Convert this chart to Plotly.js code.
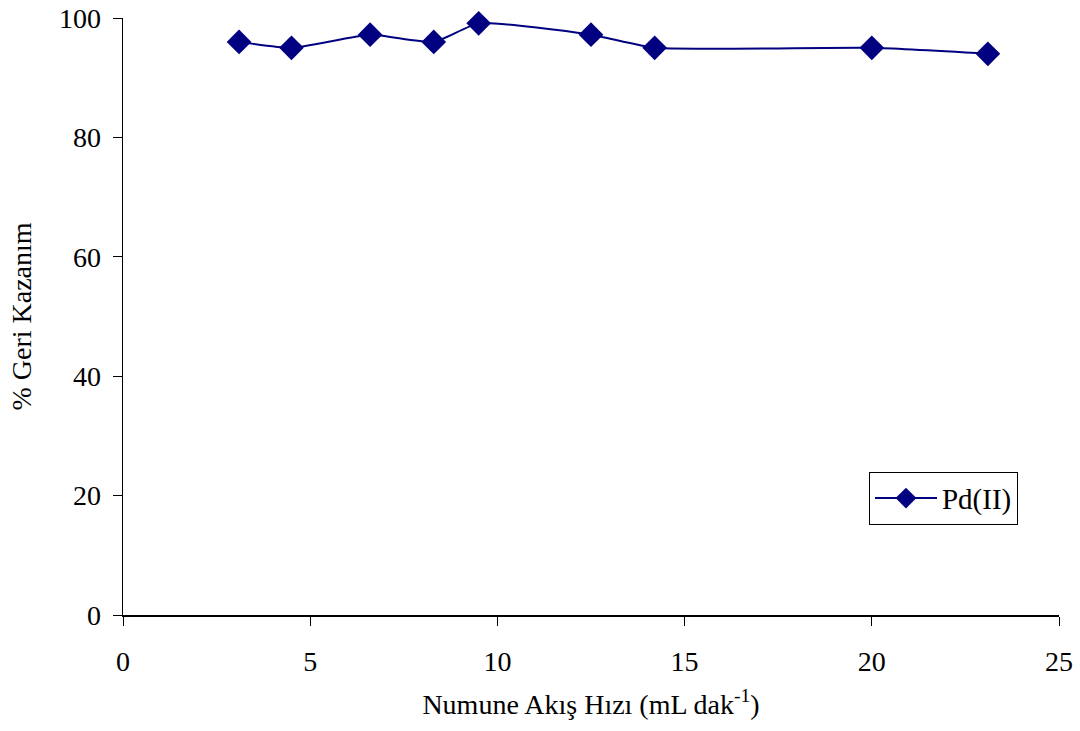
<!DOCTYPE html>
<html>
<head>
<meta charset="utf-8">
<script src="https://cdn.plot.ly/plotly-3.0.1.min.js"></script>
<style>
  html, body { margin: 0; padding: 0; background: #fff; }
  #chart { width: 1080px; height: 731px; }
</style>
</head>
<body>
<div id="chart"></div>
<script>
// Sample flow rate (mL/min) and recovery (%) for Pd(II)
const flowRate = [3.1, 4.5, 6.6, 8.3, 9.5, 12.5, 14.2, 20.0, 23.1];
const recovery = [96.0, 95.0, 97.2, 96.0, 99.1, 97.2, 95.0, 95.0, 94.0];
const seriesName = 'Pd(II)';
const xTicks = [0, 5, 10, 15, 20, 25];
const yTicks = [0, 20, 40, 60, 80, 100];

const serif = 'Liberation Serif, Times New Roman, serif';

const trace = {
  x: flowRate,
  y: recovery,
  name: seriesName,
  type: 'scatter',
  mode: 'lines+markers',
  line: { color: '#000080', width: 2, shape: 'spline', smoothing: 0.5 },
  marker: { symbol: 'diamond', size: 19, color: '#000080' },
  cliponaxis: false
};

const layout = {
  width: 1080,
  height: 731,
  margin: { l: 123, r: 21, t: 18, b: 116 },
  paper_bgcolor: '#fff',
  plot_bgcolor: '#fff',
  font: { family: serif, size: 28, color: '#000' },
  showlegend: true,
  legend: {
    x: 0.797, y: 0.24, xanchor: 'left', yanchor: 'top',
    bordercolor: '#000', borderwidth: 1, bgcolor: '#fff',
    font: { family: serif, size: 29, color: '#000' },
    itemwidth: 62, tracegroupgap: 0
  },
  xaxis: {
    range: [0, 25],
    tickvals: xTicks,
    ticks: 'outside', ticklen: 9, tickcolor: '#000', tickwidth: 1,
    ticklabelstandoff: 12,
    showline: true, linecolor: '#000', linewidth: 1.5,
    showgrid: false, zeroline: false,
    tickfont: { family: serif, size: 28 },
    title: { text: 'Numune Akış Hızı (mL dak<sup>-1</sup>)', font: { family: serif, size: 28 }, standoff: 18 }
  },
  yaxis: {
    range: [0, 100],
    tickvals: yTicks,
    ticks: 'outside', ticklen: 9, tickcolor: '#000', tickwidth: 1,
    ticklabelstandoff: 6,
    showline: true, linecolor: '#000', linewidth: 1.5,
    showgrid: false, zeroline: false,
    tickfont: { family: serif, size: 28 },
    title: { text: '% Geri Kazanım', font: { family: serif, size: 28 }, standoff: 19 }
  }
};

Plotly.newPlot('chart', [trace], layout, { staticPlot: true, displayModeBar: false });
</script>
</body>
</html>
